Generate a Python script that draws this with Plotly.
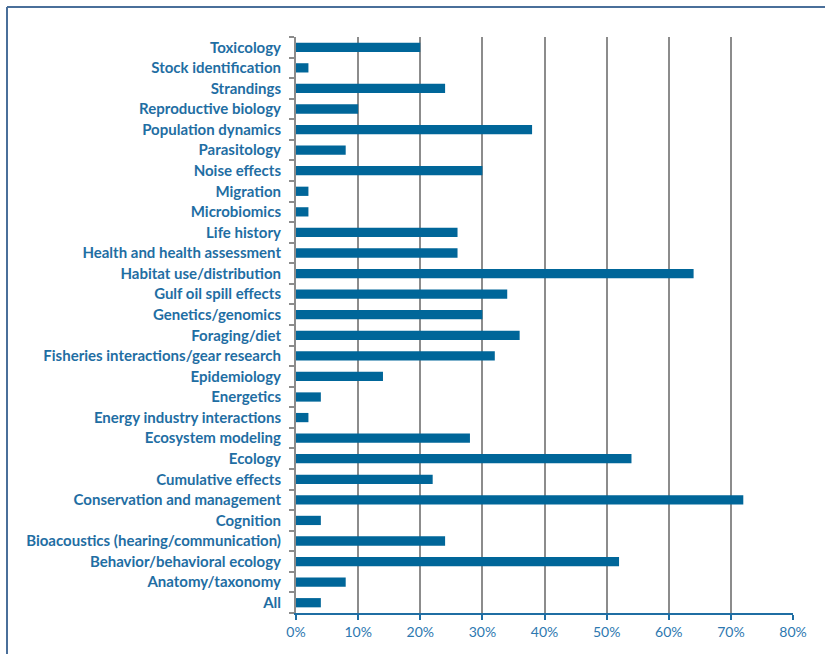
import plotly.graph_objects as go

categories = ["All", "Anatomy/taxonomy", "Behavior/behavioral ecology",
              "Bioacoustics (hearing/communication)", "Cognition",
              "Conservation and management", "Cumulative effects", "Ecology",
              "Ecosystem modeling", "Energy industry interactions", "Energetics",
              "Epidemiology", "Fisheries interactions/gear research", "Foraging/diet",
              "Genetics/genomics", "Gulf oil spill effects", "Habitat use/distribution",
              "Health and health assessment", "Life history", "Microbiomics",
              "Migration", "Noise effects", "Parasitology", "Population dynamics",
              "Reproductive biology", "Strandings", "Stock identification", "Toxicology"]
values = [0.04, 0.08, 0.52, 0.24, 0.04, 0.72, 0.22, 0.54, 0.28, 0.02, 0.04,
          0.14, 0.32, 0.36, 0.30, 0.34, 0.64, 0.26, 0.26, 0.02, 0.02, 0.30,
          0.08, 0.38, 0.10, 0.24, 0.02, 0.20]
x_ticks = [0, 0.1, 0.2, 0.3, 0.4, 0.5, 0.6, 0.7, 0.8]
x_tick_labels = ["0%", "10%", "20%", "30%", "40%", "50%", "60%", "70%", "80%"]

W, H = 825, 654
L, R, T, B = 296, 32, 37, 41
pw, ph = W - L - R, H - T - B
FRAME = 7  # frame position in px

fx0 = (FRAME - L) / pw
fy1 = 1 + (T - FRAME) / ph
frame_style = dict(color="#4a6f9a", width=2)

fig = go.Figure(go.Bar(
    x=values, y=categories, orientation="h",
    marker=dict(color="#006699", line=dict(width=0)),
    width=0.45,
    hoverinfo="skip",
))

fig.update_layout(
    width=W, height=H,
    margin=dict(l=L, r=R, t=T, b=B),
    paper_bgcolor="white", plot_bgcolor="white",
    showlegend=False,
    xaxis=dict(
        range=[0, 0.8], tickvals=x_ticks, ticktext=x_tick_labels,
        showgrid=True, gridcolor="#8c8c8c", gridwidth=2,
        showline=True, linecolor="#1f6ea3", linewidth=2,
        ticks="outside", ticklen=5, tickcolor="#1f6ea3", tickwidth=2,
        tickfont=dict(family="Lato", size=14, color="#2d78b0"),
        zeroline=False, fixedrange=True,
    ),
    yaxis=dict(
        categoryorder="array", categoryarray=categories,
        showline=True, linecolor="#8c8c8c", linewidth=2,
        ticks="outside", tickson="boundaries", ticklen=5,
        tickcolor="#8c8c8c", tickwidth=2,
        tickfont=dict(family="Lato", size=15, color="#1f6ea3", weight="bold"),
        ticklabelstandoff=10,
        showgrid=False, fixedrange=True,
    ),
    shapes=[
        dict(type="line", xref="paper", yref="paper",
             x0=fx0, x1=1.3, y0=fy1, y1=fy1, line=frame_style, layer="below"),
        dict(type="line", xref="paper", yref="paper",
             x0=fx0, x1=fx0, y0=-0.3, y1=fy1, line=frame_style, layer="below"),
    ],
)

fig.write_html("out.html",
               config={"displayModeBar": False},
               post_script="document.body.style.margin='0';"
                           "document.body.style.overflow='hidden';")
